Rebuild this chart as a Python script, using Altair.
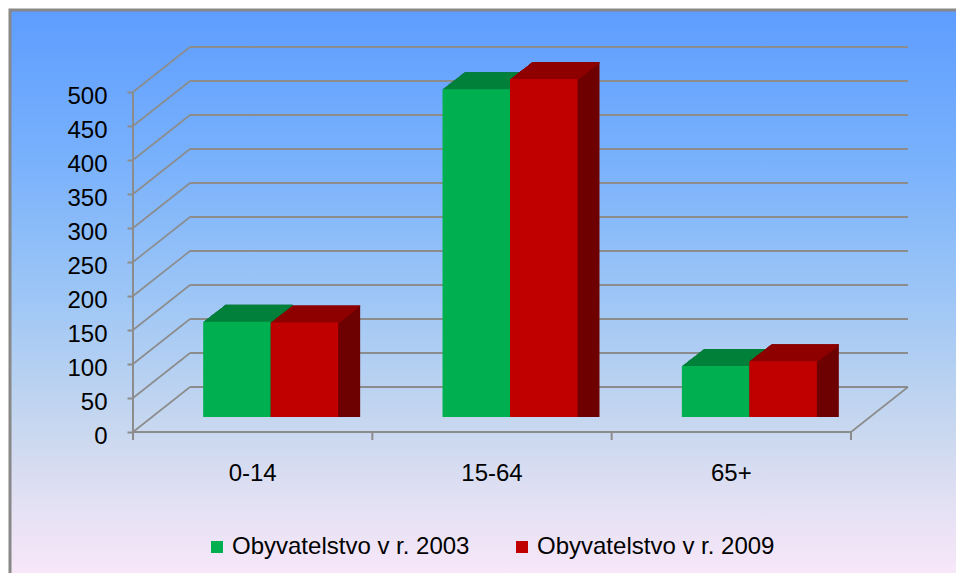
import altair as alt
import pandas as pd

# ---------------- data ----------------
categories = ["0-14", "15-64", "65+"]
series_names = ["Obyvatelstvo v r. 2003", "Obyvatelstvo v r. 2009"]
values_2003 = [140, 482, 75]
values_2009 = [139, 497, 82]
y_ticks = [0, 50, 100, 150, 200, 250, 300, 350, 400, 450, 500]

# ---------------- style ----------------
FRONT = ["#00B050", "#C00000"]
TOP = ["#00803A", "#8E0000"]
SIDE = ["#005C28", "#6E0000"]
GRID = "#8C8C8C"
FONT = "Liberation Sans"
FS = 24

W, H = 718, 340
PAD = {"left": 143, "top": 69, "right": 87, "bottom": 156}
DX, DY = 22, 17          # bar depth (pixels)
FRONT_DX, FRONT_DY = -18, 15   # front plane relative to bar plane
BACK_DX, BACK_DY = 39, -30     # back wall relative to bar plane
N = 22
PI = 0.436
TICK = 8

step = W / len(categories)
bw = step * (1 - PI)
half_off = bw / 4

x_scale = alt.Scale(domain=categories, paddingInner=PI, paddingOuter=PI / 2)
y_scale = alt.Scale(domain=[y_ticks[0], y_ticks[-1]], nice=False, zero=True)

x_axis = alt.Axis(title=None, labelAngle=0, labelOffset=FRONT_DX,
                  offset=FRONT_DY, domain=False, grid=False, ticks=False,
                  labelPadding=29, labelFont=FONT,
                  labelFontSize=FS, labelColor="black", zindex=1)
y_axis = alt.Axis(title=None, values=y_ticks, tickOffset=FRONT_DY, offset=-FRONT_DX,
                  domain=False, grid=False, tickSize=6, tickWidth=2, tickColor=GRID,
                  labelPadding=20, labelOffset=4, labelFont=FONT, labelFontSize=FS,
                  labelColor="black", zindex=1)

X = alt.X("cat:N", scale=x_scale, axis=x_axis, sort=categories)

layers = []

# background with frame
bg = alt.Chart(pd.DataFrame({"a": [0]})).mark_rect(
    fill=alt.LinearGradient(
        gradient="linear", x1=0, x2=0, y1=0, y2=1,
        stops=[
            alt.GradientStop(offset=0.0, color="#5E9DFF"),
            alt.GradientStop(offset=0.25, color="#77B0FC"),
            alt.GradientStop(offset=0.5, color="#9DC6F6"),
            alt.GradientStop(offset=0.72, color="#C6D7EF"),
            alt.GradientStop(offset=0.86, color="#E3E0F3"),
            alt.GradientStop(offset=1.0, color="#FAE8FA"),
        ]),
    stroke="#888888", strokeWidth=3,
).encode(
    x=alt.value(-PAD["left"] + 2), x2=alt.value(W + PAD["right"] + 20),
    y=alt.value(-PAD["top"] + 2), y2=alt.value(H + PAD["bottom"] + 10),
)
layers.append(bg)

grid_df = pd.DataFrame({"v": y_ticks})
ends_df = pd.DataFrame({"lo": [y_ticks[0]], "hi": [y_ticks[-1]]})
cat_df = pd.DataFrame({"cat": categories, "lo": y_ticks[0]})

# back wall gridlines
layers.append(alt.Chart(grid_df).mark_rule(color=GRID, strokeWidth=2, yOffset=BACK_DY).encode(
    x=alt.value(BACK_DX), x2=alt.value(W + BACK_DX),
    y=alt.Y("v:Q", scale=y_scale, axis=y_axis)))
# side wall diagonals
layers.append(alt.Chart(grid_df).mark_rule(color=GRID, strokeWidth=1.6, yOffset=FRONT_DY,
                                           y2Offset=BACK_DY).encode(
    x=alt.value(FRONT_DX), x2=alt.value(BACK_DX),
    y=alt.Y("v:Q", scale=y_scale, axis=y_axis), y2="v:Q"))
# front vertical axis line
layers.append(alt.Chart(ends_df).mark_rule(color=GRID, strokeWidth=2, yOffset=FRONT_DY,
                                           y2Offset=FRONT_DY).encode(
    x=alt.value(FRONT_DX), y=alt.Y("lo:Q", scale=y_scale, axis=y_axis), y2="hi:Q"))
# floor front edge
layers.append(alt.Chart(ends_df).mark_rule(color=GRID, strokeWidth=2, yOffset=FRONT_DY).encode(
    x=alt.value(FRONT_DX), x2=alt.value(W + FRONT_DX),
    y=alt.Y("lo:Q", scale=y_scale, axis=y_axis)))
# floor right diagonal
layers.append(alt.Chart(ends_df).mark_rule(color=GRID, strokeWidth=1.6, yOffset=FRONT_DY,
                                           y2Offset=BACK_DY).encode(
    x=alt.value(W + FRONT_DX), x2=alt.value(W + BACK_DX),
    y=alt.Y("lo:Q", scale=y_scale, axis=y_axis), y2="lo:Q"))
# category boundary ticks on the front floor edge
layers.append(alt.Chart(cat_df).mark_rule(color=GRID, strokeWidth=2,
                                          xOffset=FRONT_DX - step / 2,
                                          yOffset=FRONT_DY, y2Offset=FRONT_DY + TICK).encode(
    x=X, y=alt.Y("lo:Q", scale=y_scale, axis=y_axis), y2="lo:Q"))
layers.append(alt.Chart(ends_df).mark_rule(color=GRID, strokeWidth=2,
                                           yOffset=FRONT_DY, y2Offset=FRONT_DY + TICK).encode(
    x=alt.value(W + FRONT_DX), y=alt.Y("lo:Q", scale=y_scale, axis=y_axis), y2="lo:Q"))

legend = alt.Legend(orient="none", legendX=54, legendY=458, direction="horizontal",
                    title=None, symbolType="square", symbolSize=144, symbolStrokeWidth=0,
                    labelFontSize=FS, labelFont=FONT, labelColor="black", labelOffset=3,
                    columnPadding=40, padding=0, labelLimit=500)

all_vals = [values_2003, values_2009]
for j in range(2):
    d = pd.DataFrame({"cat": categories, "value": all_vals[j], "series": series_names[j]})
    cx = (2 * j - 1) * half_off
    width = alt.RelativeBandSize(band=0.5)
    # extrusion (side colour)
    for k in range(N, 0, -1):
        ox = DX * k / N
        oy = -DY * k / N
        layers.append(alt.Chart(d).mark_bar(
            color=SIDE[j], width=width, xOffset=cx + ox, x2Offset=cx + ox,
            yOffset=oy, y2Offset=oy).encode(
            x=X, y=alt.Y("value:Q", scale=y_scale, axis=y_axis, stack=None)))
    # top face strips
    for k in range(N, 0, -1):
        ox = DX * k / N
        oy = -DY * k / N
        layers.append(alt.Chart(d).mark_bar(
            color=TOP[j], width=width, xOffset=cx + ox, x2Offset=cx + ox,
            yOffset=oy, y2Offset=oy + DY / N + 0.8).encode(
            x=X, y=alt.Y("value:Q", scale=y_scale, axis=y_axis, stack=None), y2="value:Q"))
    # front face
    layers.append(alt.Chart(d).mark_bar(
        width=width, xOffset=cx, x2Offset=cx).encode(
        x=X, y=alt.Y("value:Q", scale=y_scale, axis=y_axis, stack=None),
        color=alt.Color("series:N", scale=alt.Scale(domain=series_names, range=FRONT),
                        legend=legend)))

chart = alt.layer(*layers).properties(
    width=W, height=H, padding=PAD, autosize="none", background="white"
).configure_view(stroke=None)

chart.save("out.html", embed_options={"renderer": "svg", "actions": False})
